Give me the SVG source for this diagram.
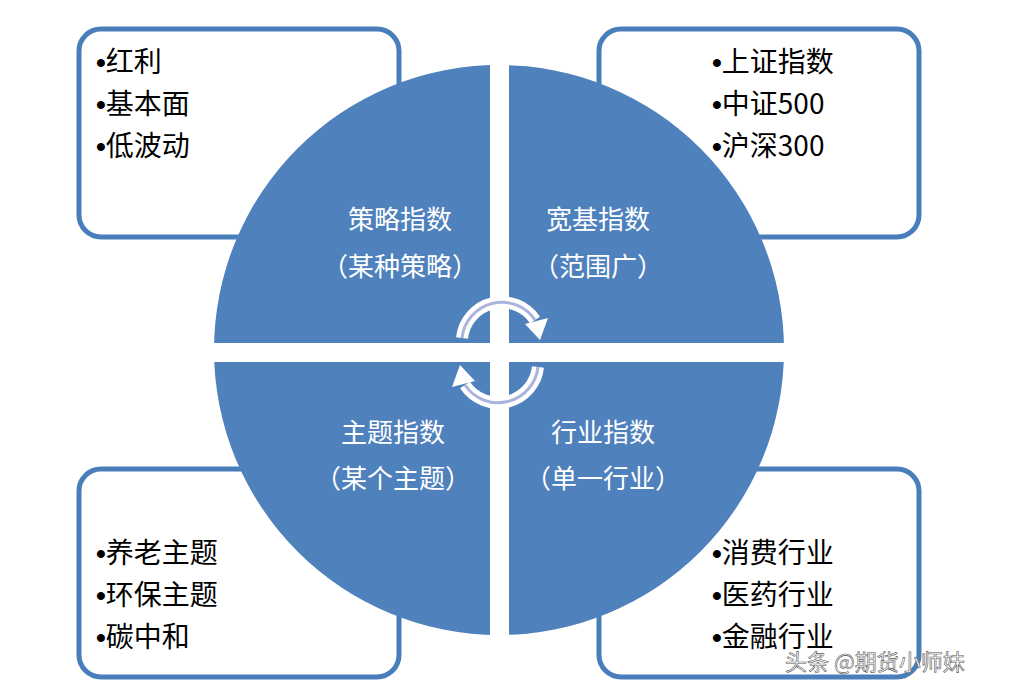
<svg xmlns="http://www.w3.org/2000/svg" width="1018" height="692" viewBox="0 0 1018 692">
<style>
.box{fill:#fff;stroke:#4a7ebb;stroke-width:5}
.q{fill:#4f81bd}
.lbl{font-family:"Noto Sans CJK SC",sans-serif;font-size:26px;fill:#fff;text-anchor:middle}
.b{font-family:"Noto Sans CJK SC",sans-serif;font-size:28px;fill:#000}
.d{font-family:"Liberation Sans",sans-serif;font-weight:bold}
.arc{fill:none;stroke:#fff;stroke-width:12}
.arcin{fill:none;stroke:#aab4dc;stroke-width:3}
</style>
<rect width="1018" height="692" fill="#fff"/>
<g id="box-tl"><rect class="box" x="79" y="29" width="320" height="208" rx="22"/>
<text class="b" x="96" y="72"><tspan class="d">•</tspan>红利</text><text class="b" x="96" y="114"><tspan class="d">•</tspan>基本面</text><text class="b" x="96" y="156"><tspan class="d">•</tspan>低波动</text></g>
<g id="box-tr"><rect class="box" x="599" y="29" width="320" height="208" rx="22"/>
<text class="b" x="712" y="72"><tspan class="d">•</tspan>上证指数</text><text class="b" x="712" y="114"><tspan class="d">•</tspan>中证500</text><text class="b" x="712" y="156"><tspan class="d">•</tspan>沪深300</text></g>
<g id="box-bl"><rect class="box" x="79" y="469" width="320" height="208" rx="22"/>
<text class="b" x="96" y="563"><tspan class="d">•</tspan>养老主题</text><text class="b" x="96" y="605"><tspan class="d">•</tspan>环保主题</text><text class="b" x="96" y="647"><tspan class="d">•</tspan>碳中和</text></g>
<g id="box-br"><rect class="box" x="599" y="469" width="320" height="208" rx="22"/>
<text class="b" x="712" y="563"><tspan class="d">•</tspan>消费行业</text><text class="b" x="712" y="605"><tspan class="d">•</tspan>医药行业</text><text class="b" x="712" y="647"><tspan class="d">•</tspan>金融行业</text></g>
<g id="circle">
<circle class="q" cx="499" cy="350" r="285"/>
<rect x="490" y="60" width="19" height="580" fill="#fff"/>
<rect x="210" y="343" width="580" height="19" fill="#fff"/>
</g>
<g id="q-tl"><text class="lbl" x="400" y="229">策略指数</text><text class="lbl" x="400" y="276">（某种策略）</text></g>
<g id="q-tr"><text class="lbl" x="598" y="229">宽基指数</text><text class="lbl" x="598" y="276">（范围广）</text></g>
<g id="q-bl"><text class="lbl" x="393" y="442">主题指数</text><text class="lbl" x="393" y="488">（某个主题）</text></g>
<g id="q-br"><text class="lbl" x="603" y="442">行业指数</text><text class="lbl" x="603" y="488">（单一行业）</text></g>
<g id="connectors">
<path class="arc" d="M462 338 A40 40 0 0 1 535 320"/>
<path class="arcin" d="M462 338 A40 40 0 0 1 535 320"/>
<polygon points="525,324 548,318 540,340" fill="#fff"/>
<path class="arc" d="M538 367 A40 40 0 0 1 465 385"/>
<path class="arcin" d="M538 367 A40 40 0 0 1 465 385"/>
<polygon points="475,381 452,387 460,365" fill="#fff"/>
</g>
<text x="785" y="670" font-family="Noto Sans CJK SC,sans-serif" font-size="22" fill="#fff" stroke="#555" stroke-width="0.6">头条 @期货小师妹</text>
</svg>
